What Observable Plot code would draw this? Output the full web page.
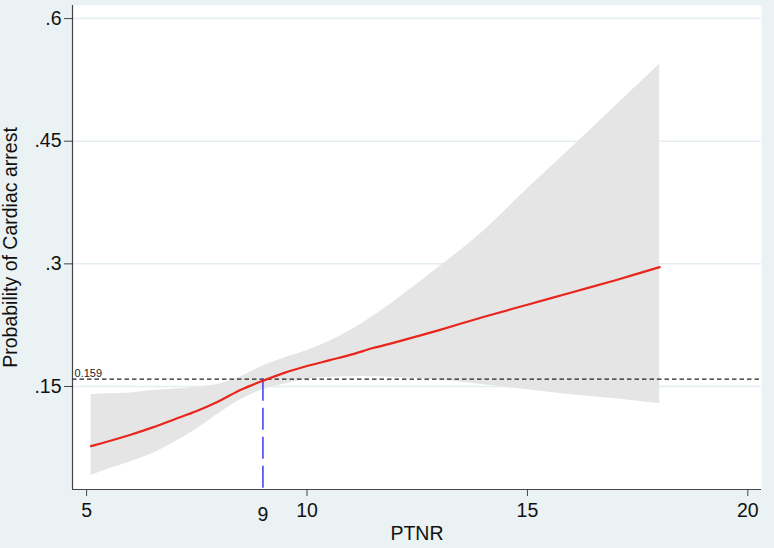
<!DOCTYPE html>
<html>
<head>
<meta charset="utf-8">
<script src="https://cdn.jsdelivr.net/npm/d3@7"></script>
<script src="https://cdn.jsdelivr.net/npm/@observablehq/plot@0.6"></script>
<style>
  html, body { margin: 0; padding: 0; background: #eaf2f3; }
  #chart { width: 774px; height: 548px; }
</style>
</head>
<body>
<div id="chart"></div>
<script>
// Data
const ptnr  = [5.1, 5.5, 6, 6.5, 7, 7.5, 8, 8.5, 9, 9.5, 10, 10.5, 11, 11.5, 12, 13, 14, 15, 16, 17, 18];
const prob  = [0.077, 0.083, 0.091, 0.100, 0.110, 0.120, 0.132, 0.146, 0.157, 0.167, 0.175, 0.182, 0.189, 0.197, 0.204, 0.219, 0.235, 0.250, 0.265, 0.280, 0.296];
const lower = [0.041, 0.049, 0.058, 0.068, 0.082, 0.098, 0.117, 0.134, 0.146, 0.153, 0.159, 0.161, 0.162, 0.162, 0.161, 0.158, 0.152, 0.146, 0.140, 0.135, 0.129];
const upper = [0.140, 0.141, 0.142, 0.145, 0.147, 0.149, 0.153, 0.162, 0.175, 0.185, 0.194, 0.205, 0.219, 0.236, 0.255, 0.296, 0.340, 0.392, 0.442, 0.493, 0.544];
const yTicks = [0.15, 0.3, 0.45, 0.6];
const xTicks = [5, 10, 15, 20];
const cutX = 9;
const cutY = 0.159;
const cutLabel = "0.159";
const xTitle = "PTNR";
const yTitle = "Probability of Cardiac arrest";

const rows = ptnr.map((x, i) => ({x, fit: prob[i], lo: lower[i], hi: upper[i]}));
const xDomain = [4.68, 20.31];
const yDomain = [0.024, 0.616];
const font = "'Liberation Sans', Arial, Helvetica, sans-serif";
const fs = 19.5;

const chart = Plot.plot({
  width: 774,
  height: 548,
  marginLeft: 72,
  marginRight: 13,
  marginTop: 5,
  marginBottom: 59,
  style: {background: "#eaf2f3", fontFamily: font, color: "#111"},
  x: {domain: xDomain},
  y: {domain: yDomain},
  marks: [
    Plot.frame({fill: "white", stroke: null}),
    Plot.gridY(yTicks, {stroke: "#e4eef0", strokeOpacity: 1, strokeWidth: 1.5}),
    Plot.areaY(rows, {x: "x", y1: "lo", y2: "hi", fill: "#e5e5e5", curve: "catmull-rom"}),
    Plot.ruleY([cutY], {stroke: "#222", strokeWidth: 1.2, strokeDasharray: "4.5,3"}),
    Plot.text([cutLabel], {x: xDomain[0], y: cutY, text: d => d, textAnchor: "start", dx: 2, dy: -6, fontSize: 11, fill: "#222"}),
    Plot.ruleX([{x: cutX, y: cutY}], {x: "x", y1: "y", y2: yDomain[0], stroke: "#3b3bf5", strokeWidth: 1.5, strokeDasharray: "22,7"}),
    Plot.line(rows, {x: "x", y: "fit", stroke: "#e8261c", strokeWidth: 2.2, curve: "catmull-rom"}),
    Plot.ruleX([xDomain[0]], {stroke: "#444", strokeWidth: 1.2}),
    Plot.ruleY([yDomain[0]], {stroke: "#444", strokeWidth: 1.2}),
    Plot.axisY(yTicks, {tickFormat: d => String(d).replace(/^0/, ""), fontSize: fs, tickSize: 8, tickPadding: 3, stroke: "#444", label: null}),
    Plot.axisX(xTicks, {fontSize: fs, tickSize: 7, tickPadding: 7, stroke: "#444", label: null}),
    Plot.axisX([cutX], {fontSize: fs, tickSize: 0, tickPadding: 18, label: null}),
    Plot.text([xTitle], {frameAnchor: "bottom", text: d => d, dy: 37, lineAnchor: "top", fontSize: fs}),
    Plot.text([yTitle], {frameAnchor: "left", text: d => d, rotate: -90, dx: -62, textAnchor: "middle", lineAnchor: "middle", fontSize: fs})
  ]
});
document.getElementById("chart").appendChild(chart);
</script>
</body>
</html>
